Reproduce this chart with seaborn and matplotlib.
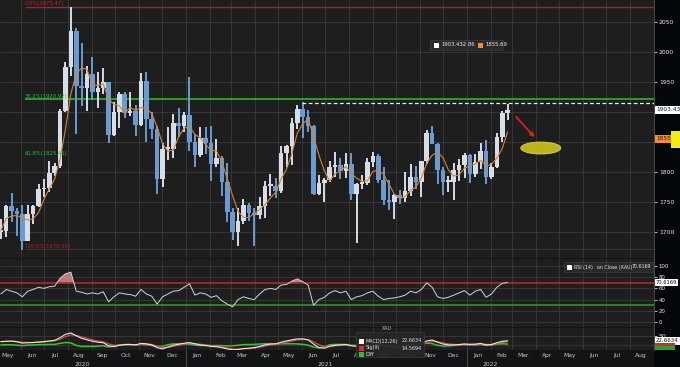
import pandas as pd
import numpy as np
import matplotlib.pyplot as plt
import matplotlib.dates as mdates
import matplotlib.transforms as mtransforms
from matplotlib.patches import Rectangle, Ellipse
import seaborn as sns

# XAU weekly bars, week of 4 May 2020 .. week of 21 Feb 2022
wk_open = [1700, 1702, 1743, 1735, 1730, 1685, 1730, 1743, 1771, 1774,
           1799, 1810, 1902, 1975, 2035, 1944, 1940, 1964, 1933, 1940,
           1950, 1861, 1900, 1930, 1899, 1902, 1879, 1951, 1889, 1872,
           1788, 1839, 1839, 1881, 1877, 1895, 1850, 1828, 1856, 1848,
           1813, 1824, 1784, 1734, 1700, 1719, 1745, 1732, 1729, 1744,
           1777, 1777, 1768, 1831, 1843, 1881, 1905, 1891, 1877, 1764,
           1781, 1787, 1808, 1812, 1802, 1814, 1763, 1780, 1781, 1817,
           1827, 1787, 1754, 1750, 1761, 1757, 1768, 1792, 1783, 1818,
           1865, 1846, 1803, 1783, 1783, 1804, 1811, 1829, 1797, 1817,
           1835, 1791, 1808, 1859, 1898]
wk_high = [1722, 1745, 1765, 1740, 1745, 1745, 1745, 1780, 1789, 1818,
           1815, 1905, 1984, 2075, 2040, 2015, 1976, 1992, 1966, 1973,
           1950, 1917, 1933, 1933, 1933, 1911, 1965, 1966, 1900, 1876,
           1848, 1875, 1896, 1906, 1900, 1959, 1863, 1875, 1875, 1876,
           1855, 1826, 1815, 1740, 1740, 1755, 1748, 1740, 1758, 1785,
           1797, 1790, 1843, 1845, 1890, 1912, 1916, 1903, 1878, 1795,
           1790, 1818, 1834, 1824, 1832, 1832, 1782, 1795, 1823, 1834,
           1830, 1808, 1787, 1764, 1770, 1800, 1814, 1810, 1818, 1870,
           1877, 1848, 1808, 1793, 1815, 1822, 1831, 1830, 1830, 1848,
           1853, 1815, 1865, 1902, 1914]
wk_low = [1688, 1692, 1717, 1693, 1670, 1685, 1713, 1742, 1758, 1767,
          1794, 1807, 1900, 1960, 1863, 1910, 1902, 1920, 1907, 1930,
          1848, 1860, 1873, 1890, 1894, 1860, 1877, 1850, 1855, 1764,
          1775, 1820, 1824, 1859, 1867, 1835, 1809, 1825, 1830, 1785,
          1808, 1760, 1717, 1687, 1676, 1713, 1718, 1677, 1721, 1723,
          1760, 1756, 1765, 1808, 1812, 1871, 1856, 1866, 1761, 1761,
          1750, 1784, 1791, 1789, 1790, 1753, 1682, 1772, 1778, 1808,
          1782, 1745, 1737, 1721, 1746, 1750, 1760, 1771, 1758, 1814,
          1846, 1780, 1762, 1767, 1753, 1785, 1790, 1782, 1791, 1805,
          1780, 1788, 1806, 1850, 1886]
wk_close = [1702, 1743, 1735, 1730, 1685, 1730, 1743, 1771, 1774, 1799,
            1810, 1902, 1975, 2035, 1944, 1940, 1964, 1933, 1940, 1950,
            1861, 1900, 1930, 1899, 1902, 1879, 1951, 1889, 1872, 1788,
            1839, 1839, 1881, 1877, 1895, 1850, 1828, 1856, 1848, 1813,
            1824, 1784, 1734, 1700, 1719, 1745, 1732, 1729, 1744, 1777,
            1777, 1768, 1831, 1843, 1881, 1905, 1891, 1877, 1764, 1781,
            1787, 1808, 1812, 1802, 1814, 1763, 1780, 1781, 1817, 1827,
            1787, 1754, 1750, 1761, 1757, 1768, 1792, 1783, 1818, 1865,
            1846, 1803, 1783, 1783, 1804, 1811, 1829, 1797, 1817, 1835,
            1791, 1808, 1859, 1898, 1903.43]
rsi_14 = [50, 58, 55, 52, 45, 55, 58, 62, 60, 63,
          64, 78, 86, 89, 55, 53, 50, 52, 50, 54,
          36, 45, 52, 50, 49, 46, 58, 50, 46, 32,
          45, 50, 55, 56, 62, 68, 48, 52, 50, 44,
          47, 38, 32, 27, 40, 45, 42, 40, 50, 58,
          60, 58, 66, 67, 73, 77, 72, 66, 30, 40,
          44, 52, 56, 52, 55, 40, 45, 47, 52, 55,
          46, 40, 42, 43, 45, 48, 55, 52, 58, 70,
          62, 45, 42, 44, 48, 52, 56, 48, 55, 58,
          44, 50, 62, 69, 70.6169]
macd_line = [18, 20, 21, 17, 10, 12, 13, 16, 18, 22,
             25, 40, 58, 66, 50, 36, 28, 20, 15, 12,
             -5, -9, -2, 2, 3, 0, 8, 6, 0, -15,
             -22, -12, -2, 4, 9, 13, 6, 0, -3, -8,
             -10, -15, -22, -27, -25, -20, -18, -15, -8, 0,
             5, 6, 15, 22, 28, 33, 33, 28, 5, -15,
             -18, -8, -2, 0, 2, -5, -8, -5, 0, 5,
             3, -5, -9, -12, -12, -8, 0, 3, 6, 22,
             27, 15, 5, 0, 0, 2, 5, 3, 4, 8,
             0, 2, 12, 20, 22.6634]

fib_pct = ['0.0%', '38.2%', '61.8%', '100.0%']
fib_level = [2075.47, 1920.92, 1825.45, 1670.90]
resist_level = 1915
last_px, last_chg, ma_last = 1903.43, -2.86, 1855.69
rsi_last = 70.6169
macd_last, sig_last = 22.6634, 14.5694
price_ticks = [1700, 1750, 1800, 1850, 1900, 1950, 2000, 2050]
price_labels = ['1700', '1750', '1800', '', '', '1950', '2000', '2050']
rsi_ticks = [0, 20, 40, 60, 80, 100]
year_labels = ['2020', '2021', '2022']
year_pos = ['2020-08-19', '2021-07-01', '2022-01-31']

df = pd.DataFrame({
    'date': pd.date_range('2020-05-06', periods=len(wk_close), freq='7D'),
    'open': wk_open, 'high': wk_high, 'low': wk_low, 'close': wk_close,
    'rsi': rsi_14, 'macd': macd_line})
df['ma'] = df['close'].rolling(4, min_periods=1).mean()
df['sig'] = df['macd'].ewm(span=3, adjust=False).mean()
df['diff'] = df['macd'] - df['sig']

BG = '#1e1e1e'
GRID = '#3a3a3a'
UP, DOWN = '#d5dde7', '#6b9bd0'
TXT = '#e6e6e6'

sns.set_style('dark', {'axes.facecolor': BG, 'figure.facecolor': '#121416'})

W, H = 680, 367


def box(x0, y0, x1, y1):
    return [x0 / W, 1 - y1 / H, (x1 - x0) / W, (y1 - y0) / H]


def fx(x):
    return x / W


def fy(y):
    return 1 - y / H


def fig_rect(x0, y0, x1, y1, **kw):
    fig.patches.append(Rectangle((fx(x0), fy(y1)), fx(x1 - x0), (y1 - y0) / H,
                                 transform=fig.transFigure, **kw))


fig = plt.figure(figsize=(6.8, 3.67), dpi=100, facecolor='#121416')
ax = fig.add_axes(box(0, 0, 654, 258))
ax_r = fig.add_axes(box(0, 259, 654, 327), sharex=ax)
ax_m = fig.add_axes(box(0, 328, 654, 350), sharex=ax)

# right-hand scale strip
fig_rect(654, 0, 680, 367, fc='#05080b', ec='none', zorder=-1)

# candles
col = np.where(df['close'] >= df['open'], UP, DOWN)
ax.vlines(df['date'], df['low'], df['high'], colors=col, lw=1.4, zorder=2)
ax.bar(df['date'], (df['close'] - df['open']).abs().clip(lower=3),
       bottom=df[['open', 'close']].min(axis=1), width=6.0, color=col, lw=0, zorder=2)
sns.lineplot(data=df, x='date', y='ma', ax=ax, color='#d7832f', lw=0.8, zorder=3)

x_end = pd.Timestamp('2022-09-01')
fib_start = pd.Timestamp('2020-06-06')
fib_col = ['#d21c1c', '#2bbf2b', '#2bbf2b', '#c01818']
fib_lw = [1.0, 1.3, 0, 0.7]
for pct, lvl, c, lw in zip(fib_pct, fib_level, fib_col, fib_lw):
    if lw:
        ax.hlines(lvl, fib_start, x_end, colors=c, lw=lw, alpha=0.85 if lw > 0.8 else 0.55, zorder=1)
    ax.text(fib_start, lvl + 1.5, f'{pct}({lvl:.2f})', color=c, fontsize=3.8, va='bottom', zorder=4)

ax.hlines(resist_level, pd.Timestamp('2021-06-01'), x_end, colors='#ececec',
          linestyles=(0, (3, 2)), lw=0.9, zorder=3)

# annotation: arrow + target ellipse
ax.annotate('', xy=(pd.Timestamp('2022-03-30'), 1858), xytext=(pd.Timestamp('2022-03-06'), 1892),
            arrowprops=dict(arrowstyle='-|>', color='#e3201b', lw=1.2, mutation_scale=6,
                            shrinkA=0, shrinkB=0), zorder=5)
ax.add_patch(Ellipse((mdates.date2num(pd.Timestamp('2022-04-07')), 1840), 52, 20,
                     fc='#c9c21a', ec='#e6df55', lw=0.6, alpha=0.92, zorder=5))

ax.set_ylim(1656.7, 2086.7)
ax.set_yticks(price_ticks)
ax.set_yticklabels(price_labels)

# RSI
sns.lineplot(data=df, x='date', y='rsi', ax=ax_r, color='#d4d4d4', lw=0.7, zorder=3)
ax_r.fill_between(df['date'], df['rsi'], 70, where=df['rsi'] > 70, interpolate=True,
                  color='#d98c8c', alpha=0.85, lw=0, zorder=2)
ax_r.axhline(70, color='#c0282a', lw=1.1, zorder=2)
ax_r.axhline(30, color='#2aa02a', lw=1.1, zorder=2)
ax_r.set_ylim(-9, 112.5)
ax_r.set_yticks(rsi_ticks)

# MACD
sns.lineplot(data=df, x='date', y='diff', ax=ax_m, color='#33c433', lw=1.1, zorder=2)
sns.lineplot(data=df, x='date', y='sig', ax=ax_m, color='#d04848', lw=0.9, zorder=3)
sns.lineplot(data=df, x='date', y='macd', ax=ax_m, color='#f2e4e4', lw=0.8, zorder=4)
ax_m.set_ylim(-28, 93)
ax_m.set_yticks([0, 50])
ax_m.set_yticklabels(['', '50'])

ax.set_xlim(pd.Timestamp('2020-05-05'), x_end)
ax_m.xaxis.set_major_locator(mdates.MonthLocator())
ax_m.xaxis.set_major_formatter(plt.NullFormatter())
ax_m.xaxis.set_minor_locator(mdates.MonthLocator(bymonthday=15))
ax_m.xaxis.set_minor_formatter(mdates.DateFormatter('%b'))

for a in (ax, ax_r, ax_m):
    a.set_facecolor(BG)
    a.set_xlabel('')
    a.set_ylabel('')
    for s in ('top', 'left', 'bottom'):
        a.spines[s].set_visible(False)
    a.spines['right'].set_color('#555555')
    a.spines['right'].set_linewidth(0.6)
    a.grid(True, which='major', color=GRID, lw=0.6)
    a.yaxis.tick_right()
    a.tick_params(axis='y', length=2, width=0.6, color='#cfcfcf', pad=1.5,
                  labelsize=4.3, labelcolor=TXT)
    a.tick_params(axis='x', which='both', length=0)
for a in (ax, ax_r):
    a.tick_params(axis='x', which='both', labelbottom=False)
ax_r.tick_params(axis='y', labelsize=3.9)
ax_m.tick_params(axis='x', which='minor', labelsize=4.3, labelcolor='#c8c8c8', pad=2.5)

# year labels and separators under the month axis
trans = mtransforms.blended_transform_factory(ax_m.transData, fig.transFigure)
for lab, d in zip(year_labels, year_pos):
    ax_m.text(pd.Timestamp(d), fy(364), lab, transform=trans, ha='center', va='center',
              fontsize=4.3, color='#c8c8c8', clip_on=False)
for d in ['2021-01-01', '2022-01-01']:
    ax_m.plot([pd.Timestamp(d)] * 2, [0, fy(350)], transform=trans, color='#555555',
              lw=0.6, clip_on=False)

# last-value boxes on the scale
tr = mtransforms.blended_transform_factory(ax.transAxes, ax.transData)
ax.text(1.003, ma_last, f'{ma_last:.2f}', transform=tr, fontsize=4.2, color='#3a1a00', va='center',
        bbox=dict(boxstyle='square,pad=0.25', fc='#f0902a', ec='none'), clip_on=False)
ax.text(1.003, last_px, f'{last_px:.2f}', transform=tr, fontsize=4.2, color='#111111', va='center',
        bbox=dict(boxstyle='square,pad=0.25', fc='white', ec='none'), clip_on=False)
tr = mtransforms.blended_transform_factory(ax_r.transAxes, ax_r.transData)
ax_r.text(1.003, rsi_last, f'{rsi_last:.4f}', transform=tr, fontsize=3.7, color='#111111', va='center',
          bbox=dict(boxstyle='square,pad=0.15', fc='white', ec='none'), clip_on=False, zorder=10)
# signal / diff markers peeking out under the MACD value box
fig_rect(655, 343, 675, 348, fc='#c83030', ec='none', zorder=2)
fig_rect(655, 346, 675, 350, fc='#2aa02a', ec='none', zorder=2.5)
tr = mtransforms.blended_transform_factory(ax_m.transAxes, ax_m.transData)
ax_m.text(1.003, macd_last, f'{macd_last:.4f}', transform=tr, fontsize=4.0, color='#111111', va='center',
          bbox=dict(boxstyle='square,pad=0.25', fc='white', ec='none'), clip_on=False, zorder=10)

# yellow marker on the scale
fig_rect(671, 131, 680, 148, fc='#f4ee10', ec='none', zorder=6)

# price legend
fig_rect(430, 40, 503, 50, fc='#2a2a2a', ec='#3c3c3c', lw=0.5, zorder=4)
fig_rect(434, 42.5, 439, 47.5, fc='white', ec='none', zorder=5)
fig_rect(478, 42.5, 483, 47.5, fc='#f0902a', ec='none', zorder=5)
fig.text(fx(441), fy(45), f'{last_px:.2f}', fontsize=3.8, color=TXT, va='center', zorder=6)
fig.text(fx(462), fy(45), f'{last_chg:.2f}', fontsize=3.8, color=TXT, va='center', zorder=6)
fig.text(fx(485), fy(45), f'{ma_last:.2f}', fontsize=3.8, color=TXT, va='center', zorder=6)

# RSI legend
fig_rect(564, 262, 653, 272, fc='#2a2a2a', ec='#3c3c3c', lw=0.5, zorder=4)
fig_rect(567, 264.5, 572, 269.5, fc='white', ec='none', zorder=5)
fig.text(fx(574), fy(267), 'RSI (14)', fontsize=3.4, color=TXT, va='center', zorder=6)
fig.text(fx(597), fy(267), 'on Close (XAU)', fontsize=3.4, color=TXT, va='center', zorder=6)
fig.text(fx(651), fy(267), f'{rsi_last:.4f}', fontsize=3.4, color=TXT, va='center', ha='right', zorder=6)

# MACD legend
fig_rect(356, 332, 424, 357, fc='#262626', ec='#3c3c3c', lw=0.5, alpha=0.95, zorder=4)
fig.text(fx(387), fy(329), 'XAU', fontsize=3.4, color='#bdbdbd', ha='center', va='center', zorder=6)
for yy, c, name, val in [(341, 'white', 'MACD(12,26)', f'{macd_last:.4f}'),
                         (348, '#d03030', 'Sig(9)', f'{sig_last:.4f}'),
                         (354, '#2ec02e', 'Diff', '')]:
    fig_rect(359, yy - 2.5, 364, yy + 2.5, fc=c, ec='none', zorder=5)
    fig.text(fx(366), fy(yy), name, fontsize=3.5, color=TXT, va='center', zorder=6)
    if val:
        fig.text(fx(422), fy(yy), val, fontsize=3.5, color=TXT, va='center', ha='right', zorder=6)

fig.savefig('out.png', dpi=100, facecolor=fig.get_facecolor())
